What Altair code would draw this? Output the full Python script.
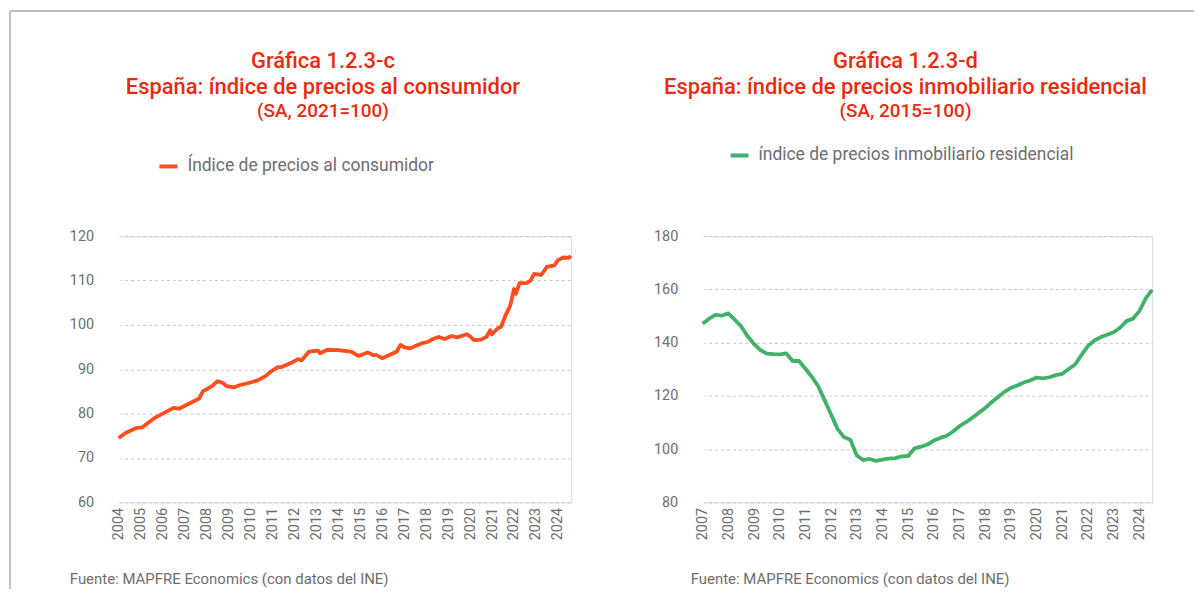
import altair as alt
import pandas as pd

FONT = "Roboto"
RED = "#EA2A10"
ORANGE = "#FF4D1E"
GREEN = "#41B16A"
GRAY = "#6E6E6E"
GRID = "#C6C6C6"
FRAME = "#BFBFBF"

# ---- Gráfica 1.2.3-c : IPC (SA, 2021=100) ----
cpi_year = [2004, 2004, 2004, 2005, 2005, 2006, 2006, 2007, 2007, 2007,
            2008, 2008, 2008, 2008, 2009, 2009, 2009, 2010, 2010, 2011,
            2011, 2011, 2011, 2012, 2012, 2012, 2013, 2013, 2013, 2014,
            2014, 2014, 2015, 2015, 2015, 2016, 2016, 2016, 2016, 2017,
            2017, 2017, 2018, 2018, 2018, 2018, 2019, 2019, 2019, 2020,
            2020, 2020, 2020, 2020, 2021, 2021, 2021, 2021, 2021, 2022,
            2022, 2022, 2022, 2022, 2022, 2023, 2023, 2023, 2024, 2024,
            2024, 2024]
cpi_month = [1, 5, 11, 2, 9, 7, 10, 6, 9, 11,
             4, 7, 10, 12, 4, 7, 12, 5, 9, 1,
             4, 6, 11, 3, 5, 9, 2, 3, 7, 1,
             8, 12, 5, 8, 10, 1, 5, 9, 11, 1,
             4, 11, 2, 4, 8, 11, 3, 6, 11, 1,
             3, 7, 10, 12, 1, 4, 6, 8, 11, 1,
             2, 4, 8, 10, 12, 4, 7, 11, 1, 4,
             7, 8]
cpi_value = [74.5, 75.7, 76.8, 76.9, 79.1, 81.3, 81.1, 82.8, 83.4, 85.0,
             86.2, 87.3, 86.9, 86.2, 85.9, 86.4, 86.9, 87.5, 88.4, 89.7,
             90.5, 90.5, 91.4, 92.3, 92.0, 94.0, 94.2, 93.6, 94.4, 94.3,
             94.0, 93.0, 93.8, 93.2, 93.2, 92.5, 93.2, 94.0, 95.5, 95.0,
             94.7, 95.9, 96.2, 96.7, 97.3, 96.8, 97.5, 97.2, 97.9, 97.4,
             96.6, 96.7, 97.3, 98.8, 97.9, 99.2, 99.6, 101.8, 104.4, 108.1,
             107.0, 109.4, 109.4, 110.0, 111.5, 111.3, 113.1, 113.4, 114.6, 115.2,
             115.1, 115.6]
cpi_name = "Índice de precios al consumidor"
cpi_title = ["Gráfica 1.2.3-c", "España: índice de precios al consumidor", "(SA, 2021=100)"]
cpi_ticks_y = [60, 70, 80, 90, 100, 110, 120]
cpi_years = list(range(2004, 2025))

# ---- Gráfica 1.2.3-d : índice de precios de vivienda (SA, 2015=100) ----
hpi_year = [2007] * 4 + [2008] * 4 + [2009] * 4 + [2010] * 4 + [2011] * 4 + \
           [2012] * 4 + [2013] * 4 + [2014] * 4 + [2015] * 4 + [2016] * 4 + \
           [2017] * 4 + [2018] * 4 + [2019] * 4 + [2020] * 4 + [2021] * 4 + \
           [2022] * 4 + [2023] * 4 + [2024] * 3
hpi_quarter = [1, 2, 3, 4] * 17 + [1, 2, 3]
hpi_value = [147.1, 149.0, 150.4, 150.2,
             151.0, 148.6, 146.1, 142.4,
             139.5, 137.2, 135.9, 135.7,
             135.6, 136.0, 133.1, 133.1,
             130.2, 127.2, 123.6, 118.3,
             113.0, 107.6, 104.5, 103.5,
             97.6, 95.9, 96.3, 95.6,
             96.0, 96.4, 96.6, 97.3,
             97.4, 100.3, 100.9, 101.7,
             103.2, 104.2, 105.0, 106.6,
             108.6, 110.1, 111.8, 113.7,
             115.4, 117.6, 119.6, 121.5,
             123.0, 123.9, 125.0, 125.8,
             126.9, 126.6, 127.0, 127.8,
             128.3, 130.1, 131.8, 135.4,
             138.7, 140.8, 142.1, 143.0,
             143.9, 145.6, 148.1, 149.0,
             151.8, 156.6, 159.8]
hpi_name = "índice de precios inmobiliario residencial"
hpi_title = ["Gráfica 1.2.3-d", "España: índice de precios inmobiliario residencial", "(SA, 2015=100)"]
hpi_ticks_y = [80, 100, 120, 140, 160, 180]
hpi_years = list(range(2007, 2025))

SOURCE = "Fuente: MAPFRE Economics (con datos del INE)"

cpi_df = pd.DataFrame({
    "t": [y + (m - 1) / 12 for y, m in zip(cpi_year, cpi_month)],
    "v": cpi_value,
    "serie": cpi_name,
})
hpi_df = pd.DataFrame({
    "t": [y + (q - 1) / 4 for y, q in zip(hpi_year, hpi_quarter)],
    "v": hpi_value,
    "serie": hpi_name,
})

W_L, W_R, H = 454, 451, 267


def text_layer(s, x, y, size, color, align="center", weight="normal"):
    return alt.Chart(pd.DataFrame({"s": [s]})).mark_text(
        align=align, baseline="middle", fontSize=size, color=color, font=FONT,
        fontWeight=weight
    ).encode(x=alt.value(x), y=alt.value(y), text="s:N")


def panel(df, color, name, xdom, xvals, ydom, yvals, width, title_lines,
          legx, legy, footx, frame=False):
    x = alt.X("t:Q",
              scale=alt.Scale(domain=xdom, nice=False, zero=False),
              axis=alt.Axis(values=xvals, format="d", labelAngle=-90, grid=False,
                            domain=False, ticks=False, labelFontSize=14.5,
                            labelColor=GRAY, labelFont=FONT, labelPadding=5,
                            labelFlush=False, labelOverlap=False, title=None))
    y = alt.Y("v:Q",
              scale=alt.Scale(domain=ydom, nice=False, zero=False),
              axis=alt.Axis(values=yvals, grid=True, gridDash=[3, 3], gridColor=GRID,
                            gridWidth=1, domain=True, domainColor="#FFFFFF",
                            domainWidth=3, ticks=False, labelFontSize=14.5,
                            labelColor=GRAY, labelFont=FONT, labelPadding=25,
                            labelFlush=False, title=None))
    line = alt.Chart(df).mark_line(strokeWidth=3.8, strokeJoin="round").encode(
        x=x, y=y,
        color=alt.Color("serie:N", scale=alt.Scale(domain=[name], range=[color]),
                        legend=alt.Legend(title=None, orient="none", legendX=legx,
                                          legendY=legy, symbolType="stroke",
                                          symbolStrokeWidth=4, symbolSize=324,
                                          labelFontSize=17.5, labelColor=GRAY,
                                          labelFont=FONT, labelLimit=500,
                                          labelOffset=8, padding=0)),
    )
    cx = width / 2 - 22
    layers = [
        line,
        text_layer(title_lines[0], cx, -175.5, 22, RED, weight=500),
        text_layer(title_lines[1], cx, -149.5, 22, RED, weight=500),
        text_layer(title_lines[2], cx, -125.5, 19, RED, weight=500),
        text_layer(SOURCE, footx, H + 77, 15, GRAY, align="left"),
    ]
    if frame:
        fdf = pd.DataFrame({"k": [0]})
        top = alt.Chart(fdf).mark_rule(color=FRAME, strokeWidth=2).encode(
            x=alt.value(-109), x2=alt.value(1079), y=alt.value(-226))
        left = alt.Chart(fdf).mark_rule(color=FRAME, strokeWidth=2).encode(
            x=alt.value(-109), y=alt.value(-226), y2=alt.value(354))
        layers += [top, left]
    return alt.layer(*layers).properties(width=width, height=H)


left = panel(cpi_df, ORANGE, cpi_name, [2004, 2024.6], cpi_years, [60, 120], cpi_ticks_y,
             W_L, cpi_title, 39, -81, -49, frame=True)
right = panel(hpi_df, GREEN, hpi_name, [2007, 2024.5], hpi_years, [80, 180], hpi_ticks_y,
              W_R, hpi_title, 26, -92, -12)

chart = alt.hconcat(left, right, spacing=132, bounds="flush").resolve_scale(
    color="independent", x="independent", y="independent"
).properties(padding=0).configure_view(
    stroke="transparent", strokeWidth=0
).configure(font=FONT)

chart.save("out.html", embed_options={"renderer": "svg", "actions": False})
